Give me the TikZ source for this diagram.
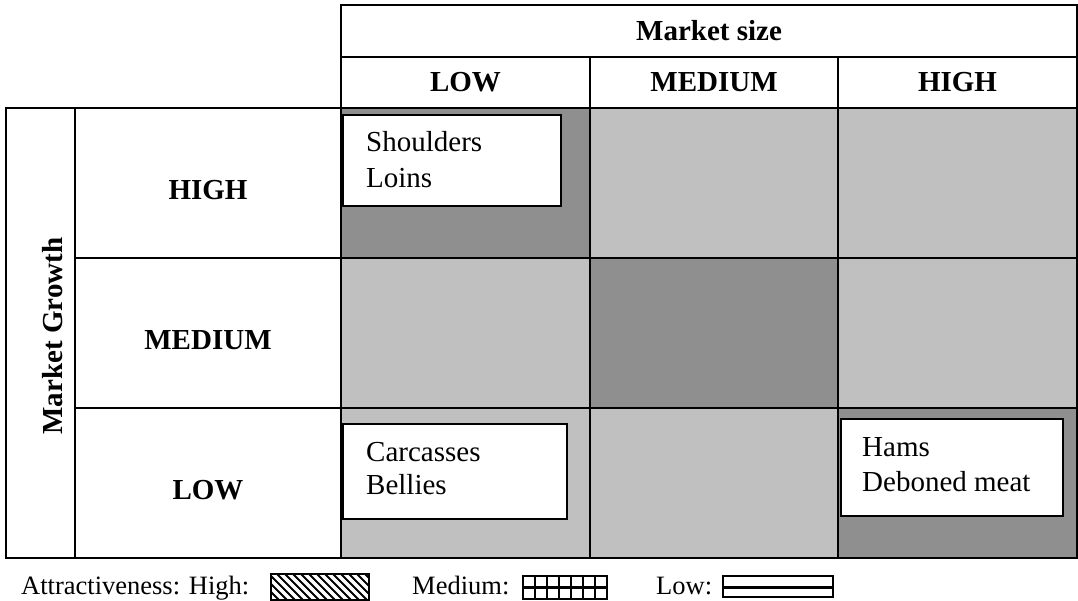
\documentclass[tikz,border=0pt]{standalone}
\usepackage{fontspec}
\setmainfont{Liberation Serif}
\begin{document}
\begin{tikzpicture}[x=1pt,y=-1pt,
  gridline/.style={line width=2pt, line cap=rect},
  hdr/.style={font=\fontsize{29}{34}\selectfont\bfseries, inner sep=0pt},
  itm/.style={font=\fontsize{29}{34}\selectfont, inner sep=0pt, anchor=base west},
  tag/.style={draw=black, line width=1.5pt, fill=white},
  leg/.style={font=\fontsize{26.5}{32}\selectfont, inner sep=0pt, anchor=base west},
  swatch/.style={draw=black, line width=1.5pt},
  meshline/.style={line width=2.6pt, line cap=rect}]
\definecolor{hot}{gray}{0.56}
\definecolor{warm}{gray}{0.753}
\useasboundingbox (0,0) rectangle (1078,601);

% cell shading
\fill[hot]  (341,108) rectangle (590,258);
\fill[warm] (590,108) rectangle (1077,258);
\fill[warm] (341,258) rectangle (590,408);
\fill[hot]  (590,258) rectangle (838,408);
\fill[warm] (838,258) rectangle (1077,408);
\fill[warm] (341,408) rectangle (838,558);
\fill[hot]  (838,408) rectangle (1077,558);

% header block
\draw[gridline] (341,108) -- (341,5) -- (1077,5) -- (1077,108);
\draw[gridline] (341,57) -- (1077,57);
\draw[gridline] (590,57) -- (590,558);
\draw[gridline] (838,57) -- (838,558);

% main table
\draw[gridline] (6,108) rectangle (1077,558);
\draw[gridline] (75,108) -- (75,558);
\draw[gridline] (341,108) -- (341,558);
\draw[gridline] (75,258) -- (1077,258);
\draw[gridline] (75,408) -- (1077,408);

% headings
\node[hdr] (msize) at (709,31) {Market size};
\node[hdr] (slow)  at (465.5,82.5) {LOW};
\node[hdr] (smed)  at (714,82.5) {MEDIUM};
\node[hdr] (shigh) at (957.5,82.5) {HIGH};
\node[hdr, rotate=90] (mgrowth) at (52.5,336) {Market Growth};
\node[hdr] (ghigh) at (208,190) {HIGH};
\node[hdr] (gmed)  at (208,340) {MEDIUM};
\node[hdr] (glow)  at (208,490) {LOW};

% product boxes
\draw[tag] (343,115) rectangle (561,206);
\node[itm] (shoulders) at (366,151.7) {Shoulders};
\node[itm] (loins)     at (366,188) {Loins};

\draw[tag] (343,424) rectangle (567,519);
\node[itm] (carcasses) at (366,461) {Carcasses};
\node[itm] (bellies)   at (366,494) {Bellies};

\draw[tag] (841,419) rectangle (1063,516);
\node[itm] (hams)    at (862,456) {Hams};
\node[itm] (deboned) at (862,491.7) {Deboned meat};

% legend
\node[leg] (lhigh) at (21,594) {Attractiveness: High:};
\node[leg] (lmed)  at (412,594) {Medium:};
\node[leg] (llow)  at (656,594) {Low:};

\begin{scope}
  \clip (271,574) rectangle (369,600);
  \foreach \x in {245,253,...,373} \draw[line width=1.8pt] (\x,574) -- (\x+26,600);
\end{scope}
\draw[swatch] (271,574) rectangle (369,600);

\foreach \x in {523,535,...,607} \draw[meshline] (\x,576) -- (\x,599);
\draw[meshline] (523,576) -- (607,576);
\draw[meshline] (523,587.5) -- (607,587.5);
\draw[meshline] (523,599) -- (607,599);

\draw[swatch] (723,576) rectangle (833,597);
\draw[line width=3pt] (723,587) -- (834,587);
\end{tikzpicture}
\end{document}
